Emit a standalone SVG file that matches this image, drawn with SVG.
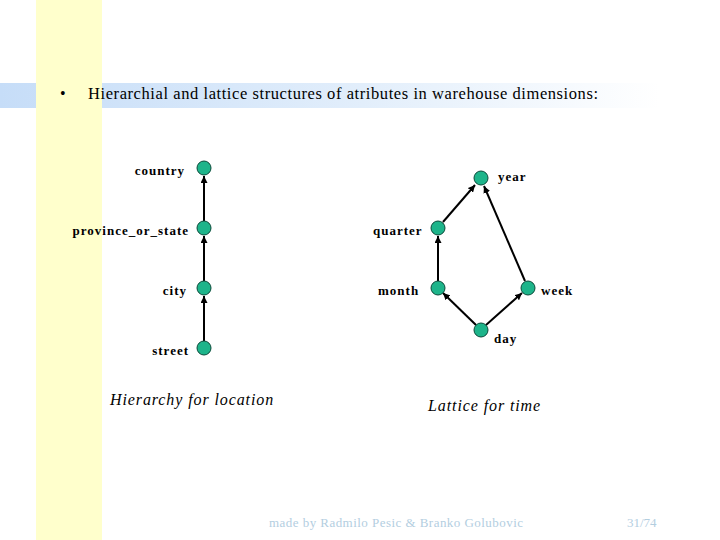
<svg xmlns="http://www.w3.org/2000/svg" width="720" height="540" viewBox="0 0 720 540">
<defs>
<linearGradient id="band" x1="0" y1="0" x2="1" y2="0">
<stop offset="0" stop-color="#C6DDF8"/>
<stop offset="0.55" stop-color="#E2EEFB"/>
<stop offset="1" stop-color="#FFFFFF"/>
</linearGradient>
<marker id="ah" viewBox="0 0 10 10" refX="10" refY="5" markerWidth="7" markerHeight="7" markerUnits="userSpaceOnUse" orient="auto">
<path d="M0,0 L10,5 L0,10 z" fill="#000"/>
</marker>
<style>
.node{fill:#1DB48A;stroke:#0B4A3A;stroke-width:1}
.lbl{font-family:"Liberation Serif",serif;font-weight:bold;font-size:13px;letter-spacing:1px;fill:#000}
.edge{stroke:#000;stroke-width:2;fill:none;marker-end:url(#ah)}
.cap{font-family:"Liberation Serif",serif;font-style:italic;font-size:16px;letter-spacing:0.9px;fill:#000}
.foot{font-family:"Liberation Serif",serif;font-size:13px;fill:#B3CEDF}
</style>
</defs>
<rect x="0" y="0" width="720" height="540" fill="#FFFFFF"/>
<rect x="0" y="83" width="660" height="25" fill="url(#band)"/>
<rect x="36" y="0" width="66" height="540" fill="#FFFFCC"/>
<text x="60" y="99" font-family="Liberation Serif, serif" font-size="16">•</text>
<text x="88" y="99" font-family="Liberation Serif, serif" font-size="16.5" textLength="510">Hierarchial and lattice structures of atributes in warehouse dimensions:</text>
<g id="connectors">
<line class="edge" x1="204" y1="341" x2="204" y2="296"/>
<line class="edge" x1="204" y1="281" x2="204" y2="236"/>
<line class="edge" x1="204" y1="221" x2="204" y2="176"/>
<line class="edge" x1="438" y1="281" x2="438" y2="236"/>
<line class="edge" x1="443" y1="222" x2="475" y2="185"/>
<line class="edge" x1="525" y1="281" x2="484" y2="186"/>
<line class="edge" x1="476" y1="325" x2="443" y2="293"/>
<line class="edge" x1="486" y1="325" x2="522" y2="293"/>
</g>
<g id="country"><circle class="node" cx="204" cy="168" r="7"/><text class="lbl" x="185" y="175" text-anchor="end">country</text></g>
<g id="province_or_state"><circle class="node" cx="204" cy="228" r="7"/><text class="lbl" x="189" y="235" text-anchor="end">province_or_state</text></g>
<g id="city"><circle class="node" cx="204" cy="288" r="7"/><text class="lbl" x="187" y="295" text-anchor="end">city</text></g>
<g id="street"><circle class="node" cx="204" cy="348" r="7"/><text class="lbl" x="189" y="355" text-anchor="end">street</text></g>
<g id="year"><circle class="node" cx="481" cy="178" r="7"/><text class="lbl" x="498" y="181">year</text></g>
<g id="quarter"><circle class="node" cx="438" cy="228" r="7"/><text class="lbl" x="373" y="235">quarter</text></g>
<g id="month"><circle class="node" cx="438" cy="288" r="7"/><text class="lbl" x="378" y="295">month</text></g>
<g id="week"><circle class="node" cx="528" cy="288" r="7"/><text class="lbl" x="541" y="295">week</text></g>
<g id="day"><circle class="node" cx="481" cy="330" r="7"/><text class="lbl" x="494" y="343">day</text></g>
<text class="cap" x="110" y="405">Hierarchy for location</text>
<text class="cap" x="428" y="411">Lattice for time</text>
<text class="foot" x="269" y="527" textLength="254">made by Radmilo Pesic &amp; Branko Golubovic</text>
<text class="foot" x="627" y="527">31/74</text>
</svg>
